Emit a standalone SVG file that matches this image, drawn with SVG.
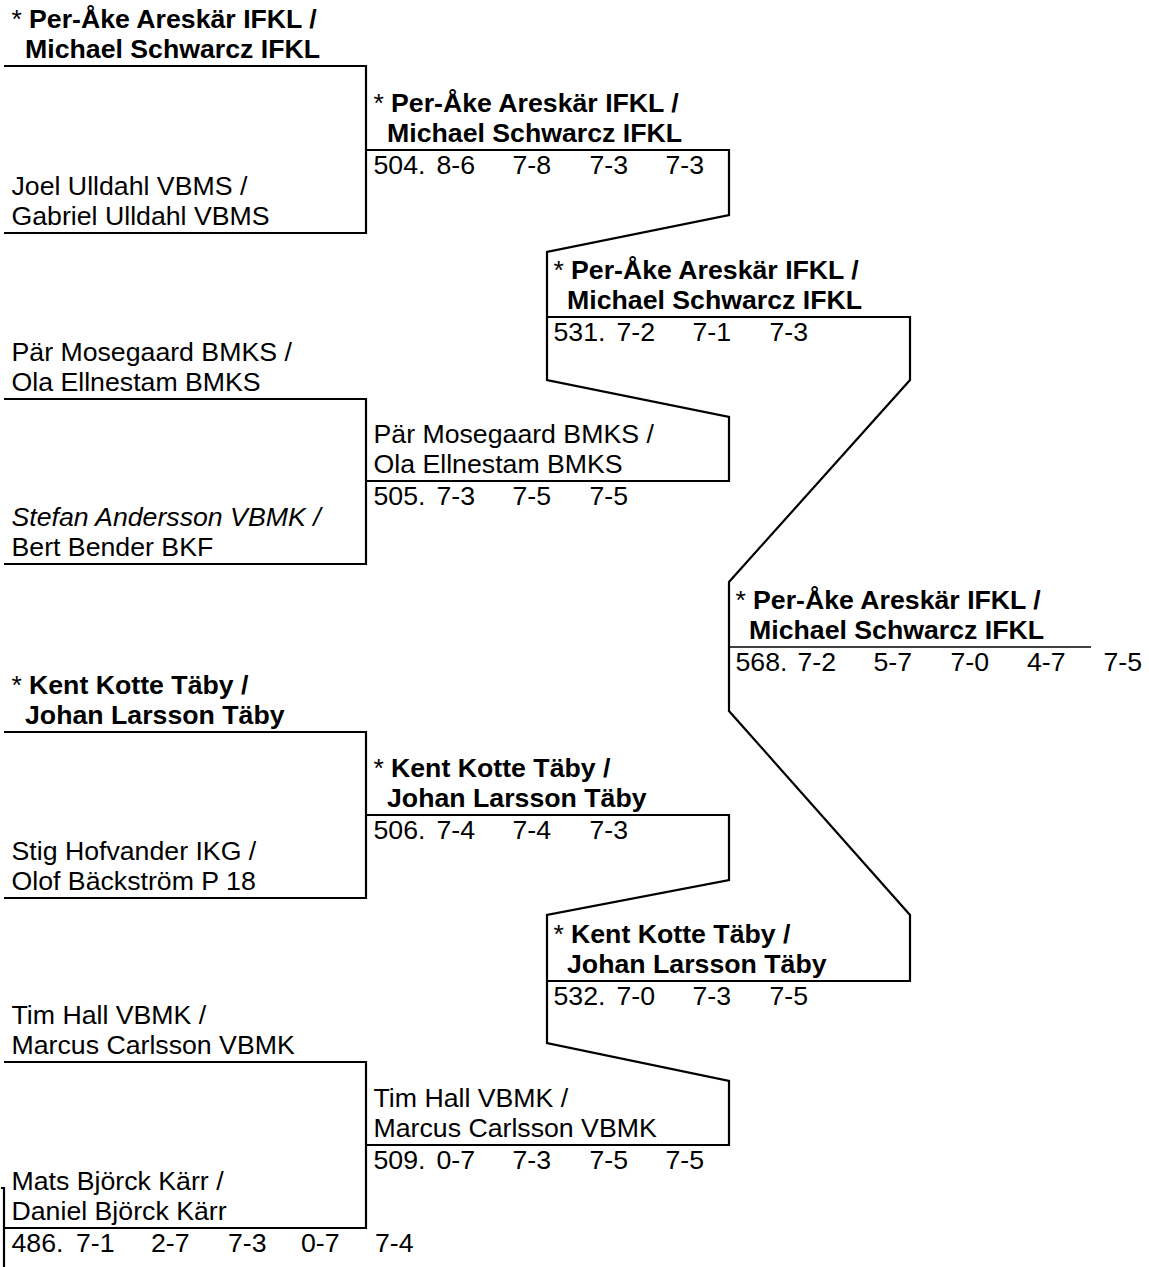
<svg xmlns="http://www.w3.org/2000/svg" width="1149" height="1267" viewBox="0 0 1149 1267">
<style>
text{font-family:"Liberation Sans",Arial,sans-serif;font-size:26.7px;fill:#000}
.b{font-weight:bold}
.i{font-style:italic}
.ln{fill:none;stroke:#000;stroke-width:2.2;stroke-linejoin:miter}
</style>
<rect width="1149" height="1267" fill="#fff"/>
<g id="connectors">
<path class="ln" d="M4,66 H366 V233 H4"/>
<path class="ln" d="M4,399 H366 V564 H4"/>
<path class="ln" d="M4,732 H366 V898 H4"/>
<path class="ln" d="M4,1062 H366 V1228 H4"/>
<path class="ln" d="M1,1188 H4 V1267"/>
<path class="ln" d="M366,150 H729 V215 L547,252 V380 L729,417 V481 H366"/>
<path class="ln" d="M366,815 H729 V880 L547,915 V1043 L729,1081 V1145 H366"/>
<path class="ln" d="M547,317 H910 V380 L729,582 V711 L910,915 V981 H547"/>
<path class="ln" d="M729,647 H1091" style="stroke-width:1.6"/>
</g>
<g id="r1-p1"><text x="11.5" y="28">*<tspan class="b" x="29">Per-Åke Areskär IFKL /</tspan></text><text class="b" x="25" y="58">Michael Schwarcz IFKL</text></g>
<g id="r1-p2"><text x="11.5" y="195">Joel Ulldahl VBMS /</text><text x="11.5" y="225">Gabriel Ulldahl VBMS</text></g>
<g id="r1-p3"><text x="11.5" y="361">Pär Mosegaard BMKS /</text><text x="11.5" y="391">Ola Ellnestam BMKS</text></g>
<g id="r1-p4"><text class="i" x="11.5" y="526">Stefan Andersson VBMK /</text><text x="11.5" y="556">Bert Bender BKF</text></g>
<g id="r1-p5"><text x="11.5" y="694">*<tspan class="b" x="29">Kent Kotte Täby /</tspan></text><text class="b" x="25" y="724">Johan Larsson Täby</text></g>
<g id="r1-p6"><text x="11.5" y="860">Stig Hofvander IKG /</text><text x="11.5" y="890">Olof Bäckström P 18</text></g>
<g id="r1-p7"><text x="11.5" y="1024">Tim Hall VBMK /</text><text x="11.5" y="1054">Marcus Carlsson VBMK</text></g>
<g id="r1-p8"><text x="11.5" y="1190">Mats Björck Kärr /</text><text x="11.5" y="1220">Daniel Björck Kärr</text>
<text y="1252"><tspan x="11.5">486.</tspan><tspan x="76">7-1</tspan><tspan x="151">2-7</tspan><tspan x="228">7-3</tspan><tspan x="301">0-7</tspan><tspan x="375">7-4</tspan></text></g>
<g id="m504"><text x="373.5" y="112">*<tspan class="b" x="391">Per-Åke Areskär IFKL /</tspan></text><text class="b" x="387" y="142">Michael Schwarcz IFKL</text>
<text y="174"><tspan x="373.5">504.</tspan><tspan x="436.5">8-6</tspan><tspan x="512.5">7-8</tspan><tspan x="589.5">7-3</tspan><tspan x="665.5">7-3</tspan></text></g>
<g id="m505"><text x="373.5" y="443">Pär Mosegaard BMKS /</text><text x="373.5" y="473">Ola Ellnestam BMKS</text>
<text y="505"><tspan x="373.5">505.</tspan><tspan x="436.5">7-3</tspan><tspan x="512.5">7-5</tspan><tspan x="589.5">7-5</tspan></text></g>
<g id="m506"><text x="373.5" y="777">*<tspan class="b" x="391">Kent Kotte Täby /</tspan></text><text class="b" x="387" y="807">Johan Larsson Täby</text>
<text y="839"><tspan x="373.5">506.</tspan><tspan x="436.5">7-4</tspan><tspan x="512.5">7-4</tspan><tspan x="589.5">7-3</tspan></text></g>
<g id="m509"><text x="373.5" y="1107">Tim Hall VBMK /</text><text x="373.5" y="1137">Marcus Carlsson VBMK</text>
<text y="1169"><tspan x="373.5">509.</tspan><tspan x="436.5">0-7</tspan><tspan x="512.5">7-3</tspan><tspan x="589.5">7-5</tspan><tspan x="665.5">7-5</tspan></text></g>
<g id="m531"><text x="553.5" y="279">*<tspan class="b" x="571">Per-Åke Areskär IFKL /</tspan></text><text class="b" x="567" y="309">Michael Schwarcz IFKL</text>
<text y="341"><tspan x="553.5">531.</tspan><tspan x="616.5">7-2</tspan><tspan x="692.5">7-1</tspan><tspan x="769.5">7-3</tspan></text></g>
<g id="m532"><text x="553.5" y="943">*<tspan class="b" x="571">Kent Kotte Täby /</tspan></text><text class="b" x="567" y="973">Johan Larsson Täby</text>
<text y="1005"><tspan x="553.5">532.</tspan><tspan x="616.5">7-0</tspan><tspan x="692.5">7-3</tspan><tspan x="769.5">7-5</tspan></text></g>
<g id="m568"><text x="735.5" y="609">*<tspan class="b" x="753">Per-Åke Areskär IFKL /</tspan></text><text class="b" x="749" y="639">Michael Schwarcz IFKL</text>
<text y="671"><tspan x="735.5">568.</tspan><tspan x="797.5">7-2</tspan><tspan x="873.5">5-7</tspan><tspan x="950.5">7-0</tspan><tspan x="1027">4-7</tspan><tspan x="1103.5">7-5</tspan></text></g>
</svg>
